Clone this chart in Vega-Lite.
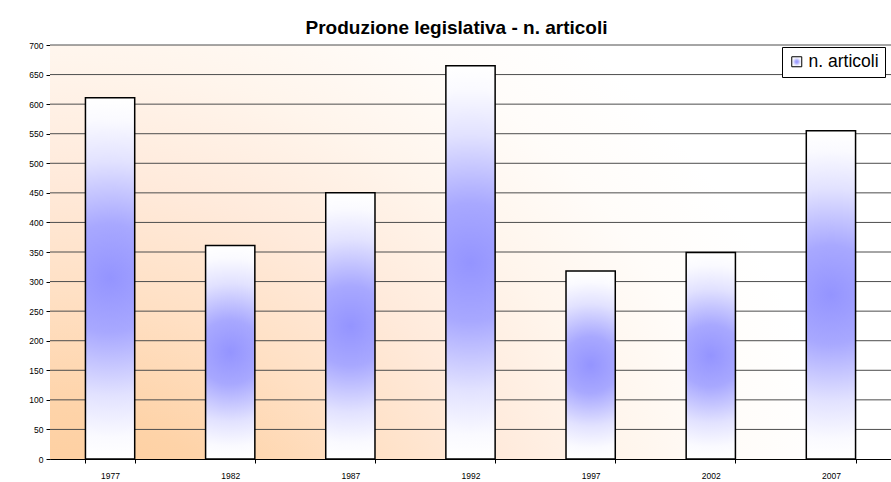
{
  "$schema": "https://vega.github.io/schema/vega-lite/v6.json",
  "width": 841,
  "height": 414,
  "autosize": {"type": "none"},
  "padding": {"left": 50, "top": 45, "right": 0, "bottom": 23},
  "background": "white",
  "title": {
    "text": "Produzione legislativa - n. articoli",
    "font": "Liberation Sans",
    "fontSize": 19,
    "fontWeight": "bold",
    "color": "black",
    "anchor": "middle",
    "dx": -14,
    "offset": -12,
    "baseline": "alphabetic"
  },
  "datasets": {
    "bars": [
      {"anno": "1977", "articoli": 611},
      {"anno": "1982", "articoli": 361},
      {"anno": "1987", "articoli": 450},
      {"anno": "1992", "articoli": 665},
      {"anno": "1997", "articoli": 318},
      {"anno": "2002", "articoli": 349},
      {"anno": "2007", "articoli": 555}
    ],
    "grid": [
      {"v": 50}, {"v": 100}, {"v": 150}, {"v": 200}, {"v": 250}, {"v": 300}, {"v": 350},
      {"v": 400}, {"v": 450}, {"v": 500}, {"v": 550}, {"v": 600}, {"v": 650}, {"v": 700}
    ]
  },
  "layer": [
    {
      "data": {"values": [{}]},
      "mark": {
        "type": "rect",
        "fill": {
          "gradient": "radial",
          "x1": 0, "y1": 1, "r1": 0,
          "x2": 0, "y2": 1, "r2": 1,
          "stops": [
            {"offset": 0, "color": "#FFCC99"},
            {"offset": 0.17, "color": "#FECC9A"},
            {"offset": 0.31, "color": "#FED3A8"},
            {"offset": 0.45, "color": "#FFE0C4"},
            {"offset": 0.59, "color": "#FFEADB"},
            {"offset": 0.73, "color": "#FFF5EC"},
            {"offset": 0.86, "color": "#FFFCF9"},
            {"offset": 0.98, "color": "#FFFFFF"}
          ]
        }
      },
      "encoding": {
        "y": {"datum": 0, "type": "quantitative", "scale": {"domain": [0, 700], "nice": false}, "axis": {"title": null, "values": [0, 50, 100, 150, 200, 250, 300, 350, 400, 450, 500, 550, 600, 650, 700]}},
        "y2": {"datum": 700}
      }
    },
    {
      "data": {"name": "grid"},
      "mark": {"type": "rule", "stroke": "#4D4D4D", "strokeWidth": 1},
      "encoding": {
        "y": {"field": "v", "type": "quantitative", "axis": {"title": null, "values": [0, 50, 100, 150, 200, 250, 300, 350, 400, 450, 500, 550, 600, 650, 700]}}
      }
    },
    {
      "data": {"name": "bars"},
      "mark": {
        "type": "bar",
        "strokeWidth": 1.5,
        "fill": {
          "gradient": "radial",
          "x1": 0.5, "y1": 0.5, "r1": 0,
          "x2": 0.5, "y2": 0.5, "r2": 0.5,
          "stops": [
            {"offset": 0, "color": "#9494FF"},
            {"offset": 0.3, "color": "#A8A8FF"},
            {"offset": 0.65, "color": "#E2E2FF"},
            {"offset": 0.88, "color": "#FAFAFF"},
            {"offset": 1, "color": "#FFFFFF"}
          ]
        }
      },
      "encoding": {
        "x": {
          "field": "anno",
          "type": "nominal",
          "scale": {"paddingInner": 0.59, "paddingOuter": 0.295},
          "axis": {
            "title": null,
            "labelAngle": 0,
            "tickBand": "extent",
            "labelFont": "Liberation Sans",
            "labelFontSize": 8.5,
            "labelColor": "black",
            "labelPadding": 8.5,
            "tickSize": 4,
            "tickColor": "black",
            "domainColor": "black",
            "grid": false
          }
        },
        "y": {"field": "articoli", "type": "quantitative", "axis": {"title": null, "values": [0, 50, 100, 150, 200, 250, 300, 350, 400, 450, 500, 550, 600, 650, 700]}},
        "stroke": {
          "datum": "n. articoli",
          "type": "nominal",
          "scale": {"range": ["black"]},
          "legend": {
            "title": null,
            "orient": "none",
            "legendX": 732,
            "legendY": 2,
            "fillColor": "white",
            "strokeColor": "black",
            "padding": 6,
            "labelFont": "Liberation Sans",
            "labelFontSize": 17.5,
            "labelColor": "black",
            "labelOffset": 3,
            "symbolType": "square",
            "symbolSize": 100,
            "symbolStrokeWidth": 1,
            "encode": {
              "symbols": {
                "update": {
                  "fill": {"value": "#C4C4F4"},
                  "stroke": {"value": "black"},
                  "strokeWidth": {"value": 1}
                }
              }
            }
          }
        }
      }
    }
  ],
  "config": {
    "view": {"stroke": null},
    "axisY": {
      "grid": false,
      "labelFont": "Liberation Sans",
      "labelFontSize": 8.5,
      "labelColor": "black",
      "labelPadding": 3,
      "tickSize": 4,
      "tickColor": "black",
      "domainColor": "black"
    }
  }
}
